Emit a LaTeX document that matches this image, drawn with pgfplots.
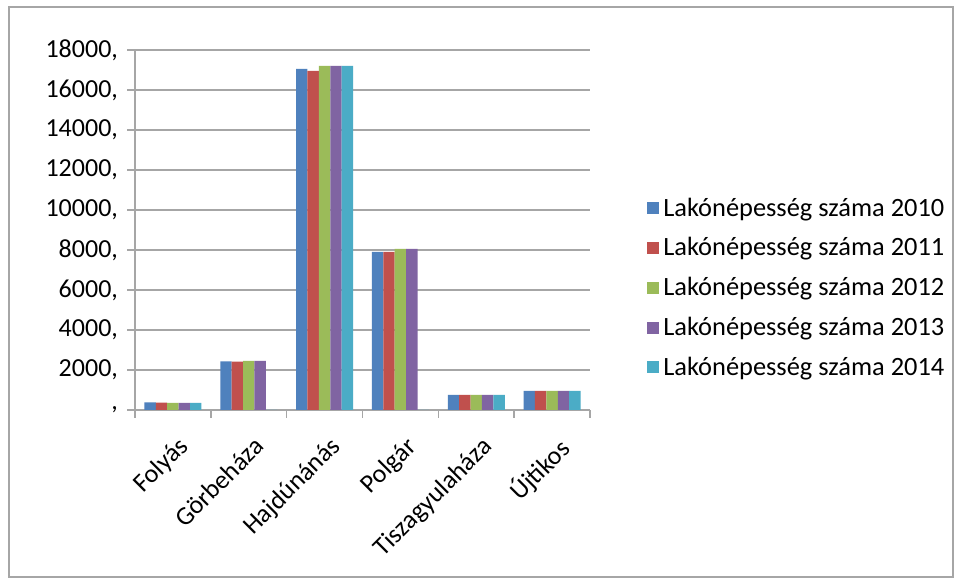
\documentclass[border=0pt]{standalone}
\usepackage{pgfplots}
\pgfplotsset{compat=1.18}
\usepackage{fontspec}
\setmainfont{Carlito}
\definecolor{c1}{HTML}{4F81BD}
\definecolor{c2}{HTML}{C0504D}
\definecolor{c3}{HTML}{9BBB59}
\definecolor{c4}{HTML}{8064A2}
\definecolor{c5}{HTML}{4BACC6}
\definecolor{gridc}{HTML}{A6A6A6}
\begin{document}
\begin{tikzpicture}
\fill[white] (0,0) rectangle (478.5pt,290.5pt);
\useasboundingbox (0,0) rectangle (478.5pt,290.5pt);
\draw[gridc, line width=1pt] (4.5pt,2pt) rectangle (476.5pt,287pt);
\begin{axis}[
  at={(67.5pt,85.5pt)}, anchor=south west,
  scale only axis, width=227.5pt, height=180pt,
  ybar=0pt, bar width=5.7pt,
  ymin=0, ymax=18000,
  xmin=-0.5, xmax=5.5,
  scaled y ticks=false,
  ytick={0,2000,...,18000},
  yticklabels={{,},{2000,},{4000,},{6000,},{8000,},{10000,},{12000,},{14000,},{16000,},{18000,}},
  xtick={0,1,2,3,4,5},
  xticklabels={Folyás,Görbeháza,Hajdúnánás,Polgár,Tiszagyulaháza,Újtikos},
  minor xtick={-0.5,0.5,1.5,2.5,3.5,4.5,5.5},
  major x tick style={draw=none},
  minor x tick style={gridc, thick},
  minor tick length=4pt,
  ytick style={gridc, thick},
  major tick length=4pt,
  tick align=outside,
  ymajorgrids, major grid style={gridc, line width=0.9pt},
  axis line style={gridc, line width=0.9pt},
  axis x line*=bottom, axis y line*=left,
  x tick label style={rotate=45, anchor=north east, font=\fontsize{13}{15}\selectfont, xshift=-1pt, yshift=-4pt},
  y tick label style={font=\fontsize{13}{15}\selectfont, xshift=-1pt},
  legend style={at={(1.112,0.339)}, anchor=west, draw=none, fill=none,
    font=\fontsize{13.2}{15}\selectfont, row sep=5.2pt,
    /tikz/every even column/.append style={column sep=2pt}},
  legend cell align=left,
  legend image code/.code={\fill[#1] (0pt,-3pt) rectangle (6pt,3pt);},
  every axis plot/.append style={draw=none},
  clip=false,
]
\addplot[fill=c1] coordinates {(0,380) (1,2430) (2,17050) (3,7900) (4,760) (5,960)};
\addplot[fill=c2] coordinates {(0,370) (1,2420) (2,16950) (3,7900) (4,750) (5,950)};
\addplot[fill=c3] coordinates {(0,360) (1,2450) (2,17200) (3,8050) (4,750) (5,950)};
\addplot[fill=c4] coordinates {(0,350) (1,2460) (2,17200) (3,8050) (4,750) (5,950)};
\addplot[fill=c5] coordinates {(0,350) (1,0) (2,17200) (3,0) (4,750) (5,950)};
\legend{Lakónépesség száma 2010,Lakónépesség száma 2011,Lakónépesség száma 2012,Lakónépesség száma 2013,Lakónépesség száma 2014}
\end{axis}
\end{tikzpicture}
\end{document}
